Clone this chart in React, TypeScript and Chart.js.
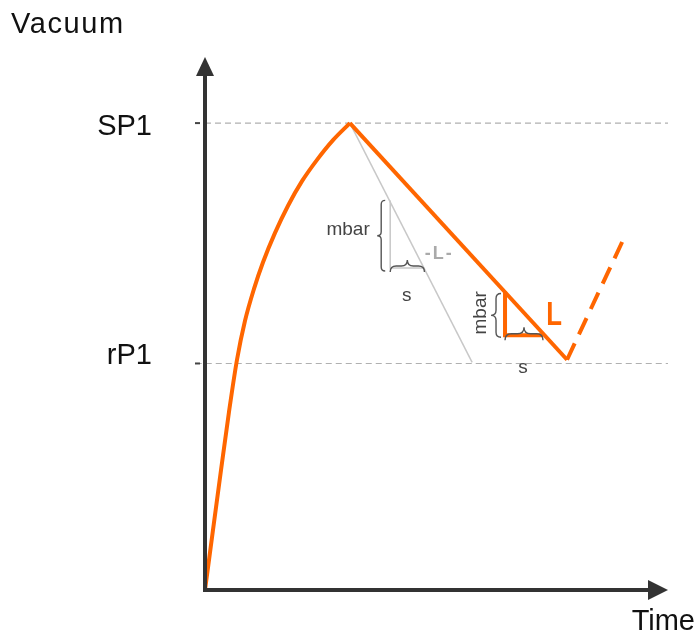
import React, { useEffect, useRef } from "react";
import { Chart, registerables } from "chart.js";

Chart.register(...registerables);

const ORANGE = "#ff6600";
const GRAY_LINE = "#c8c8c8";
const REF_GRAY = "#b0b0b0";
const AXIS = "#333333";
const TEXT = "#111111";
const FONT = "'Liberation Sans', Arial, sans-serif";

// Levels
const SP1 = 87.6;
const RP1 = 42.5;
const yTickLabels = ["SP1", "rP1"];
const yTickValues = [SP1, RP1];
const xAxisTitle = "Time";
const yAxisTitle = "Vacuum";

// Evacuation curve (rising)
const curveX = [0, 1.73, 3.46, 5.18, 6.91, 8.64, 10.58, 12.53, 15.12, 17.93, 20.95, 24.19, 27.65, 31.3];
const curveY = [0, 11.3, 22.5, 33.4, 43.2, 50.5, 56.5, 61.5, 67.0, 72.1, 76.7, 80.7, 84.4, 87.6];

// Leakage descent (orange)
const descentX = [31.3, 78.2];
const descentY = [87.6, 43.2];

// Re-evacuation (dashed)
const riseX = [78.2, 90.1];
const riseY = [43.2, 65.3];

// Reference leakage (grey)
const grayX = [31.3, 57.7];
const grayY = [87.6, 42.7];

// Slope triangles
const grayTriX = [40, 40, 47.4];
const grayTriY = [73.1, 60.4, 60.4];
const orTriX = [64.8, 64.8, 73];
const orTriY = [56, 47.8, 47.8];

const pts = (xs: number[], ys: number[]) => xs.map((x, i) => ({ x, y: ys[i] }));

function drawBrace(
  ctx: CanvasRenderingContext2D,
  x1: number, y1: number, x2: number, y2: number, depth: number
) {
  const dx = x2 - x1, dy = y2 - y1;
  const len = Math.hypot(dx, dy);
  const tx = dx / len, ty = dy / len;
  let nx = -ty, ny = tx;
  if (depth < 0) { nx = -nx; ny = -ny; depth = -depth; }
  const h = depth / 2;
  const r = Math.min(h, len / 4);
  const mx = (x1 + x2) / 2, my = (y1 + y2) / 2;
  const P = (bx: number, by: number, a: number, b: number) => [bx + tx * a + nx * b, by + ty * a + ny * b];
  ctx.beginPath();
  ctx.moveTo(x1, y1);
  let p = P(x1, y1, 0, h); let q = P(x1, y1, r, h);
  ctx.quadraticCurveTo(p[0], p[1], q[0], q[1]);
  p = P(mx, my, -r, h); ctx.lineTo(p[0], p[1]);
  q = P(mx, my, 0, h); p = P(mx, my, 0, depth);
  ctx.quadraticCurveTo(q[0], q[1], p[0], p[1]);
  q = P(mx, my, 0, h); p = P(mx, my, r, h);
  ctx.quadraticCurveTo(q[0], q[1], p[0], p[1]);
  p = P(x2, y2, -r, h); ctx.lineTo(p[0], p[1]);
  q = P(x2, y2, 0, h);
  ctx.quadraticCurveTo(q[0], q[1], x2, y2);
  ctx.stroke();
}

const decorPlugin = {
  id: "decor",
  afterDatasetsDraw(chart: any) {
    const ctx: CanvasRenderingContext2D = chart.ctx;
    const xs = chart.scales.x, ys = chart.scales.y;
    const px = (v: number) => xs.getPixelForValue(v);
    const py = (v: number) => ys.getPixelForValue(v);
    const x0 = px(0), y0 = py(0), xTop = px(100), yTop = py(100);
    ctx.save();

    // axes
    ctx.strokeStyle = AXIS;
    ctx.fillStyle = AXIS;
    ctx.lineWidth = 4;
    ctx.beginPath();
    ctx.moveTo(x0, y0 + 2);
    ctx.lineTo(x0, yTop + 18);
    ctx.moveTo(x0 - 2, y0);
    ctx.lineTo(xTop - 18, y0);
    ctx.stroke();
    ctx.beginPath();
    ctx.moveTo(x0, yTop);
    ctx.lineTo(x0 - 9, yTop + 19);
    ctx.lineTo(x0 + 9, yTop + 19);
    ctx.closePath();
    ctx.fill();
    ctx.beginPath();
    ctx.moveTo(xTop, y0);
    ctx.lineTo(xTop - 20, y0 - 10);
    ctx.lineTo(xTop - 20, y0 + 10);
    ctx.closePath();
    ctx.fill();

    // tick marks and labels
    ctx.lineWidth = 2;
    ctx.strokeStyle = "#444";
    ctx.font = `29px ${FONT}`;
    ctx.fillStyle = TEXT;
    ctx.textAlign = "right";
    ctx.textBaseline = "alphabetic";
    const baseOff = [12, 1];
    yTickValues.forEach((v, i) => {
      const y = py(v);
      ctx.beginPath();
      ctx.moveTo(x0 - 10, y);
      ctx.lineTo(x0 - 5, y);
      ctx.stroke();
      ctx.fillText(yTickLabels[i], x0 - 53, y + baseOff[i]);
    });

    // axis titles
    ctx.textAlign = "left";
    (ctx as any).letterSpacing = "1.6px";
    ctx.fillText(yAxisTitle, 11, 33);
    (ctx as any).letterSpacing = "0px";
    ctx.textAlign = "right";
    ctx.fillText(xAxisTitle, 695, 630);

    // braces
    ctx.strokeStyle = "#555";
    ctx.lineWidth = 1.4;
    drawBrace(ctx, px(grayTriX[0]) - 5, py(grayTriY[0]), px(grayTriX[1]) - 5, py(grayTriY[1]) + 3, 8);
    drawBrace(ctx, px(grayTriX[1]), py(grayTriY[1]) + 4, px(grayTriX[2]), py(grayTriY[2]) + 4, -12);
    drawBrace(ctx, px(orTriX[0]) - 4, py(orTriY[0]) + 2, px(orTriX[1]) - 4, py(orTriY[1]) + 2, 10);
    drawBrace(ctx, px(orTriX[1]), py(orTriY[1]) + 5, px(orTriX[2]), py(orTriY[2]) + 5, -13);

    // annotation texts
    ctx.textAlign = "center";
    ctx.textBaseline = "middle";
    ctx.fillStyle = "#444";
    ctx.font = `19px ${FONT}`;
    ctx.fillText("mbar", px(30.9), py(67.5));
    ctx.fillText("s", px(43.6), py(55.2));
    ctx.fillText("s", px(68.7), py(41.7));
    ctx.save();
    ctx.translate(px(59.6), py(52.0));
    ctx.rotate(-Math.PI / 2);
    ctx.fillText("mbar", 0, 0);
    ctx.restore();

    ctx.fillStyle = "#aaaaaa";
    ctx.font = `bold 18px ${FONT}`;
    (ctx as any).letterSpacing = "2px";
    ctx.fillText("-L-", px(50.6), py(63.0));
    (ctx as any).letterSpacing = "0px";

    ctx.fillStyle = ORANGE;
    ctx.save();
    ctx.translate(px(75.4), py(51.4));
    ctx.scale(0.78, 1);
    ctx.font = `bold 33px ${FONT}`;
    ctx.fillText("L", 0, 0);
    ctx.restore();

    ctx.restore();
  },
};

export default function App() {
  const ref = useRef<HTMLCanvasElement>(null);
  useEffect(() => {
    if (!ref.current) return;
    const base = { pointRadius: 0, showLine: true, clip: false as any, fill: false };
    const chart = new Chart(ref.current, {
      type: "scatter",
      data: {
        datasets: [
          { ...base, data: pts(curveX, curveY), borderColor: ORANGE, borderWidth: 4, cubicInterpolationMode: "monotone", order: 1 },
          { ...base, data: pts(descentX, descentY), borderColor: ORANGE, borderWidth: 4, order: 1 },
          { ...base, data: pts(riseX, riseY), borderColor: ORANGE, borderWidth: 4, borderDash: [18, 10], order: 1 },
          { ...base, data: pts(orTriX, orTriY), borderColor: ORANGE, borderWidth: 4, order: 1 },
          { ...base, data: pts(grayX, grayY), borderColor: GRAY_LINE, borderWidth: 1.5, order: 2 },
          { ...base, data: pts(grayTriX, grayTriY), borderColor: GRAY_LINE, borderWidth: 1.5, order: 2 },
          { ...base, data: pts([0, 100], [SP1, SP1]), borderColor: REF_GRAY, borderWidth: 1.2, borderDash: [6, 4], order: 3 },
          { ...base, data: pts([-2, 100], [RP1, RP1]), borderColor: REF_GRAY, borderWidth: 1.2, borderDash: [6, 4], order: 3 },
        ] as any,
      },
      options: {
        animation: false,
        responsive: false,
        events: [],
        layout: { padding: { left: 205, right: 30, top: 57, bottom: 44 } },
        plugins: { legend: { display: false }, tooltip: { enabled: false } },
        scales: {
          x: { type: "linear", min: 0, max: 100, display: false },
          y: { type: "linear", min: 0, max: 100, display: false },
        },
      },
      plugins: [decorPlugin],
    });
    return () => chart.destroy();
  }, []);
  return (
    <div style={{ position: "fixed", left: 0, top: 0, width: 698, height: 634, background: "#fff" }}>
      <canvas ref={ref} width={698} height={634} style={{ width: 698, height: 634 }} />
    </div>
  );
}
